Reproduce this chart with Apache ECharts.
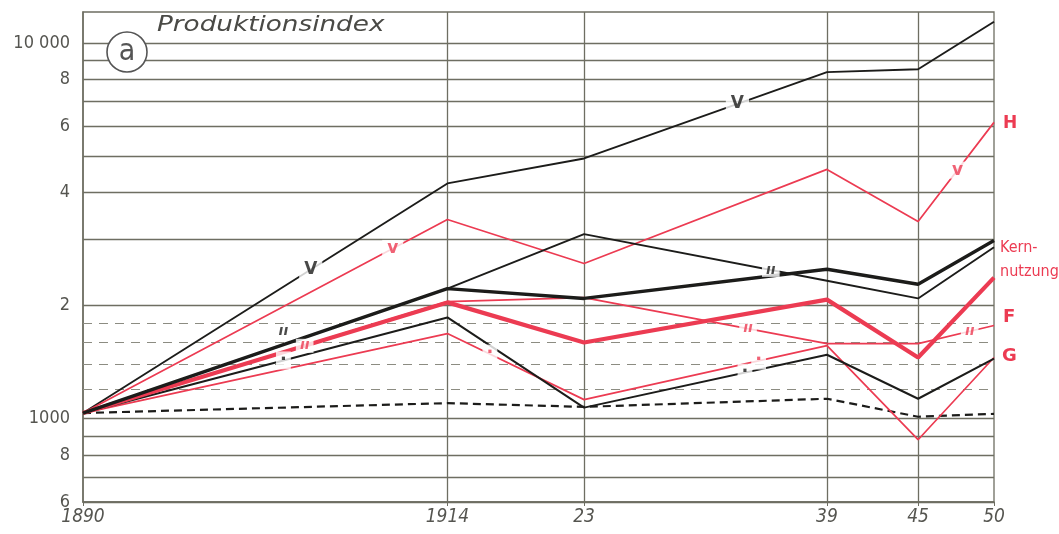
<!DOCTYPE html>
<html>
<head>
<meta charset="utf-8">
<script src="https://cdn.jsdelivr.net/npm/echarts@6/dist/echarts.min.js"></script>
<style>
html,body{margin:0;padding:0;background:#fff;}
#chart{width:1059px;height:534px;}
</style>
</head>
<body>
<div id="chart"></div>
<script>
// ---- data ----
const years = [1890, 1914, 1923, 1939, 1945, 1950];
const xTickValues = [1890, 1914, 1923, 1939, 1945, 1950];
const xTickLabels = ['1890', '1914', '23', '39', '45', '50'];
const yTickValues = [600, 800, 1000, 2000, 4000, 6000, 8000, 10000];
const yTickLabels = ['6', '8', '1000', '2', '4', '6', '8', '10 000'];
const solidGrid = [600, 700, 800, 900, 1000, 2000, 3000, 4000, 5000, 6000, 7000, 8000, 9000, 10000];
const dashedGrid = [1200, 1400, 1600, 1800];
const vGrid = [1914, 1923, 1939, 1945];

const blackV      = [1035, 4230, 4930, 8370, 8520, 11400];
const redH        = [1035, 3390, 2590, 4610, 3350, 6150];
const blackDitto  = [1035, 2220, 3100, 2330, 2090, 2860];
const blackThick  = [1035, 2220, 2090, 2500, 2280, 2980];
const redKern     = [1035, 2040, 1595, 2075, 1455, 2375];
const redF        = [1035, 2050, 2100, 1585, 1585, 1770];
const redG        = [1035, 1685, 1124, 1565, 879, 1455];
const blackG      = [1035, 1860, 1070, 1480, 1130, 1445];
const blackDashed = [1035, 1100, 1075, 1130, 1012, 1030];

// in-line marks: [year, value, text, gap]
const blackMarks = [
  [1905.0, 2495, 'V', true],
  [1933.1, 6890, 'V', true],
  [1903.2, 1634, 'ıı', false],
  [1935.3, 2490, 'ıı', true],
  [1903.2, 1429, '·', true],
  [1933.6, 1325, '·', true]
];
const redMarks = [
  [1910.4, 2840, 'v', true],
  [1947.6, 4590, 'v', true],
  [1904.6, 1563, 'ıı', true],
  [1933.8, 1740, 'ıı', true],
  [1948.4, 1710, 'ıı', true],
  [1916.8, 1490, '·', true],
  [1934.5, 1428, '·', true]
];

const BLACK = '#1c1c1a';
const RED = '#ec3b52';
const GRID = '#6e6e62';
const TXT = '#555550';

function pairs(vals) { return years.map((y, i) => [y, vals[i]]); }
function markSeries(marks, color) {
  return {
    type: 'scatter', symbolSize: 0, z: 10,
    data: marks.map(m => {
      const big = (m[2] === 'V' || m[2] === 'v');
      return {
        value: [m[0], m[1]],
        label: {
          show: true, position: 'inside', formatter: m[2],
          color: color, fontSize: big ? 17 : (m[2] === '·' ? 18 : 14),
          fontWeight: 'bold', fontStyle: m[2] === 'ıı' ? 'italic' : 'normal',
          fontFamily: 'DejaVu Sans',
          backgroundColor: m[3] ? '#fff' : 'transparent',
          padding: big ? [0, 5] : [0, 4],
          offset: m[3] ? [0, 0] : [0, -7]
        }
      };
    }),
    silent: true
  };
}
function line(vals, color, width, type, z) {
  return {
    type: 'line', data: pairs(vals), symbol: 'none', z: z || 5,
    lineStyle: { color: color, width: width, type: type || 'solid' },
    silent: true
  };
}

const chart = echarts.init(document.getElementById('chart'));
const option = {
  animation: false,
  backgroundColor: '#fff',
  grid: { left: 83, right: 65, top: 12, bottom: 32, show: true, borderColor: GRID, borderWidth: 1.3 },
  xAxis: {
    type: 'value', min: 1890, max: 1950,
    axisLine: { show: true, lineStyle: { color: GRID, width: 1.5 } },
    axisTick: { show: true, customValues: xTickValues, length: 4, inside: false, lineStyle: { color: GRID } },
    splitLine: { show: false },
    axisLabel: {
      customValues: xTickValues,
      formatter: v => xTickLabels[xTickValues.indexOf(v)],
      color: TXT, fontSize: 19, fontStyle: 'italic',
      fontFamily: 'DejaVu Sans Condensed', margin: 6
    }
  },
  yAxis: {
    type: 'log', logBase: 10, min: 600, max: 12100,
    axisLine: { show: true, lineStyle: { color: GRID, width: 1.5 } },
    axisTick: { show: false },
    splitLine: { show: false },
    minorSplitLine: { show: false },
    axisLabel: {
      customValues: yTickValues,
      formatter: v => yTickLabels[yTickValues.indexOf(Math.round(v))],
      color: TXT, fontSize: 18, fontFamily: 'DejaVu Sans Condensed', margin: 13
    }
  },
  series: [
    {
      type: 'line', data: [], z: 1, silent: true,
      markLine: {
        silent: true, symbol: ['none', 'none'], animation: false,
        label: { show: false },
        data: solidGrid.map(v => ({ yAxis: v, lineStyle: { color: GRID, width: 1.3, type: 'solid' } }))
          .concat(dashedGrid.map(v => ({ yAxis: v, lineStyle: { color: '#8c8c82', width: 1.1, type: [9, 7] } })))
          .concat(vGrid.map(v => ({ xAxis: v, lineStyle: { color: GRID, width: 1.3, type: 'solid' } })))
      }
    },
    line(blackDashed, BLACK, 2.2, [8, 5]),
    line(blackV, BLACK, 1.9),
    line(redH, RED, 1.7),
    line(blackDitto, BLACK, 1.9),
    line(redF, RED, 1.7),
    line(redG, RED, 1.7),
    line(blackG, BLACK, 2),
    line(redKern, RED, 4.2),
    line(blackThick, BLACK, 3.4),
    markSeries(blackMarks, BLACK),
    markSeries(redMarks, RED)
  ],
  graphic: [
    { type: 'text', x: 157, y: 15, scaleX: 1.25, z: 20,
      style: { text: 'Produktionsindex', font: 'italic 21px "DejaVu Sans"', fill: '#4a4a46' } },
    { type: 'circle', shape: { cx: 127, cy: 52, r: 20 }, z: 20,
      style: { fill: '#fff', stroke: '#555', lineWidth: 1.6 } },
    { type: 'text', x: 127, y: 52, z: 21,
      style: { text: 'a', font: '30px "DejaVu Sans Condensed"', fill: '#555', align: 'center', verticalAlign: 'middle' } },
    { type: 'text', x: 1003, y: 115, z: 20,
      style: { text: 'H', font: 'bold 17px "DejaVu Sans"', fill: RED } },
    { type: 'text', x: 1000, y: 240, z: 20,
      style: { text: 'Kern-', font: '16px "DejaVu Sans Condensed"', fill: RED } },
    { type: 'text', x: 1000, y: 264, z: 20,
      style: { text: 'nutzung', font: '16px "DejaVu Sans Condensed"', fill: RED } },
    { type: 'text', x: 1003, y: 308, z: 20,
      style: { text: 'F', font: 'bold 18px "DejaVu Sans"', fill: RED } },
    { type: 'text', x: 1002, y: 347, z: 20,
      style: { text: 'G', font: 'bold 18px "DejaVu Sans"', fill: RED } }
  ]
};
chart.setOption(option);
</script>
</body>
</html>
